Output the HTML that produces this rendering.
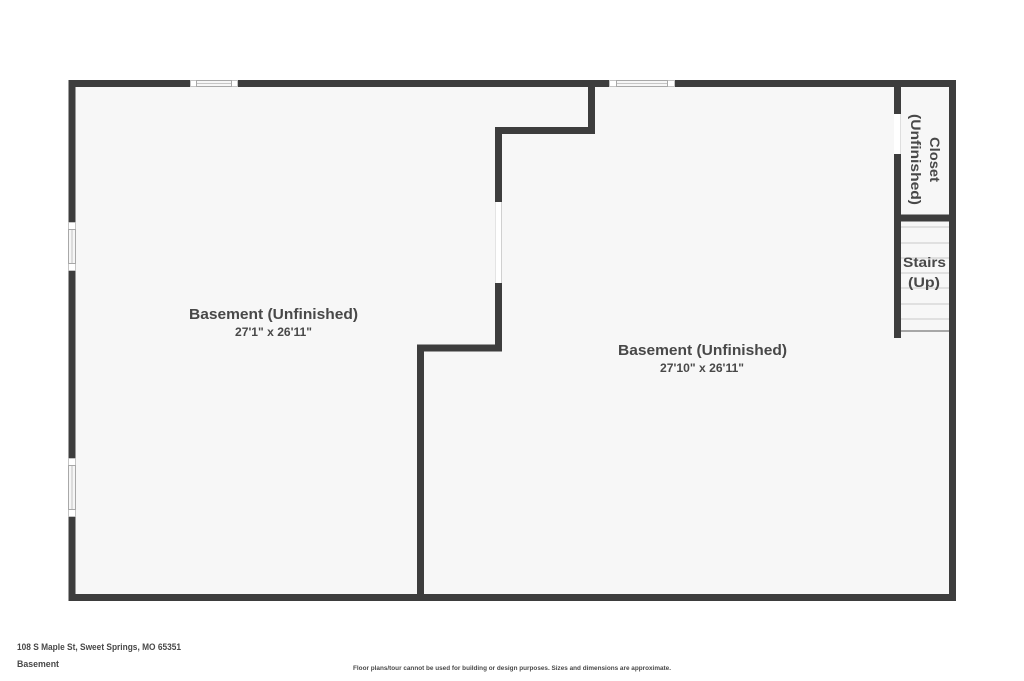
<!DOCTYPE html>
<html>
<head>
<meta charset="utf-8">
<title>Basement floor plan</title>
<style>
html,body{margin:0;padding:0;background:#fff;width:1024px;height:681px;overflow:hidden}
svg{display:block}
text{font-family:"Liberation Sans",sans-serif;font-weight:700;fill:#484848}
</style>
</head>
<body>
<svg width="1024" height="681" viewBox="0 0 1024 681" xmlns="http://www.w3.org/2000/svg">
  <rect width="1024" height="681" fill="#fff"/>
  <rect x="72" y="84" width="880" height="514" fill="#f7f7f7"/>

  <!-- stair treads -->
  <g stroke="#d2d2d2" stroke-width="1.2">
    <line x1="901" x2="949" y1="227" y2="227"/>
    <line x1="901" x2="949" y1="243" y2="243"/>
    <line x1="901" x2="949" y1="258" y2="258"/>
    <line x1="901" x2="949" y1="273" y2="273"/>
    <line x1="901" x2="949" y1="288" y2="288"/>
    <line x1="901" x2="949" y1="304" y2="304"/>
    <line x1="901" x2="949" y1="319" y2="319"/>
  </g>
  <line x1="901" x2="949" y1="331" y2="331" stroke="#777" stroke-width="1.2"/>

  <!-- walls -->
  <g fill="none" stroke="#3d3d3d" stroke-width="7" stroke-linecap="butt" stroke-linejoin="miter">
    <rect x="72" y="83.5" width="880.5" height="514"/>
    <polyline points="591.5,84 591.5,130.5 498.5,130.5 498.5,348 420.5,348 420.5,598"/>
    <line x1="897.5" y1="84" x2="897.5" y2="338"/>
    <line x1="897" y1="218" x2="952" y2="218"/>
  </g>

  <!-- openings / windows -->
  <g>
    <!-- top left window -->
    <rect x="190" y="80" width="48" height="7" fill="#fff"/>
    <rect x="190.5" y="80.5" width="47" height="6" fill="none" stroke="#c4c4c4"/>
    <rect x="196.5" y="80.5" width="35" height="6" fill="#f6f6f6" stroke="#a8a8a8"/>
    <line x1="197" x2="231" y1="83.5" y2="83.5" stroke="#b4b4b4" stroke-width=".8"/>
    <!-- top right window -->
    <rect x="609" y="80" width="66" height="7" fill="#fff"/>
    <rect x="609.5" y="80.5" width="65" height="6" fill="none" stroke="#c4c4c4"/>
    <rect x="616.5" y="80.5" width="51" height="6" fill="#f6f6f6" stroke="#a8a8a8"/>
    <line x1="617" x2="667" y1="83.5" y2="83.5" stroke="#b4b4b4" stroke-width=".8"/>
    <!-- left upper window -->
    <rect x="68" y="222" width="8" height="49" fill="#fff"/>
    <rect x="68.5" y="222.5" width="7" height="48" fill="none" stroke="#c4c4c4"/>
    <rect x="68.5" y="229.5" width="7" height="34" fill="#f6f6f6" stroke="#a8a8a8"/>
    <line y1="230" y2="263" x1="72" x2="72" stroke="#b4b4b4" stroke-width=".8"/>
    <!-- left lower window -->
    <rect x="68" y="458" width="8" height="59" fill="#fff"/>
    <rect x="68.5" y="458.5" width="7" height="58" fill="none" stroke="#c4c4c4"/>
    <rect x="68.5" y="465.5" width="7" height="44" fill="#f6f6f6" stroke="#a8a8a8"/>
    <line y1="466" y2="509" x1="72" x2="72" stroke="#b4b4b4" stroke-width=".8"/>
    <!-- inner door openings -->
    <rect x="495" y="202" width="7" height="81" fill="#fff"/>
    <line x1="501.5" x2="501.5" y1="202" y2="283" stroke="#d0d0d0"/>
    <line x1="495.5" x2="495.5" y1="202" y2="283" stroke="#e4e4e4"/>
    <rect x="894" y="114" width="7" height="40" fill="#fff"/>
    <line x1="900.5" x2="900.5" y1="114" y2="154" stroke="#dedede"/>
  </g>

  <!-- room labels -->
  <text x="189" y="319" font-size="15" textLength="169" lengthAdjust="spacingAndGlyphs">Basement (Unfinished)</text>
  <text x="235" y="336" font-size="12" textLength="77" lengthAdjust="spacingAndGlyphs">27'1" x 26'11"</text>
  <text x="618" y="355" font-size="15" textLength="169" lengthAdjust="spacingAndGlyphs">Basement (Unfinished)</text>
  <text x="660" y="372" font-size="12" textLength="84" lengthAdjust="spacingAndGlyphs">27'10" x 26'11"</text>

  <text x="903" y="267" font-size="14" textLength="43" lengthAdjust="spacingAndGlyphs">Stairs</text>
  <text x="908" y="287" font-size="14" textLength="32" lengthAdjust="spacingAndGlyphs">(Up)</text>

  <text transform="translate(930,137) rotate(90)" font-size="14" textLength="45" lengthAdjust="spacingAndGlyphs">Closet</text>
  <text transform="translate(911,114) rotate(90)" font-size="14" textLength="91" lengthAdjust="spacingAndGlyphs">(Unfinished)</text>

  <!-- footer -->
  <text x="17" y="650" font-size="9" textLength="164" lengthAdjust="spacingAndGlyphs">108 S Maple St, Sweet Springs, MO 65351</text>
  <text x="17" y="667" font-size="9" textLength="42" lengthAdjust="spacingAndGlyphs">Basement</text>
  <text x="353" y="670" font-size="6.5" textLength="318" lengthAdjust="spacingAndGlyphs">Floor plans/tour cannot be used for building or design purposes. Sizes and dimensions are approximate.</text>
</svg>
</body>
</html>
